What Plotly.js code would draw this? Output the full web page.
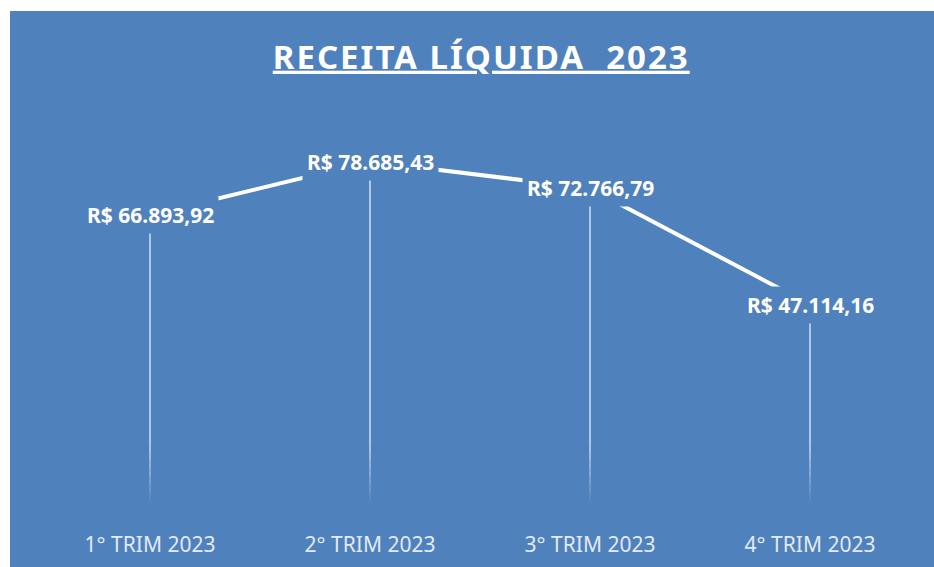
<!DOCTYPE html>
<html>
<head>
<meta charset="utf-8">
<script src="https://cdn.plot.ly/plotly-3.0.1.min.js"></script>
<style>
  html, body { margin: 0; padding: 0; background: #ffffff; width: 934px; height: 567px; overflow: hidden; }
  #chart { position: absolute; left: 10px; top: 11px; width: 924px; height: 556px; }
</style>
</head>
<body>
<div id="chart"></div>
<script>
const titleText = 'RECEITA LÍQUIDA&nbsp; 2023';
const categories = ['1° TRIM 2023', '2° TRIM 2023', '3° TRIM 2023', '4° TRIM 2023'];
const values = [66893.92, 78685.43, 72766.79, 47114.16];

const BG = '#4f81bd';

function brl(v) {
  const parts = v.toFixed(2).split('.');
  const intPart = parts[0].replace(/\B(?=(\d{3})+(?!\d))/g, '.');
  return 'R$ ' + intPart + ',' + parts[1];
}

const lineTrace = {
  type: 'scatter',
  mode: 'lines',
  x: categories,
  y: values,
  line: { color: '#ffffff', width: 4 },
  hoverinfo: 'skip',
  showlegend: false
};

// drop lines from each point to the axis, fading at the bottom
const shapes = [];
const fadeTop = 16000, fadeBottom = 2500, steps = 8;
categories.forEach((c, i) => {
  shapes.push({
    type: 'line', xref: 'x', yref: 'y', layer: 'below',
    x0: c, x1: c, y0: values[i], y1: fadeTop,
    line: { color: 'rgba(225,234,246,0.9)', width: 1.5 }
  });
  for (let k = 0; k < steps; k++) {
    const a = fadeTop - (fadeTop - fadeBottom) * k / steps;
    const b = fadeTop - (fadeTop - fadeBottom) * (k + 1) / steps;
    const op = 0.9 * (1 - (k + 0.5) / steps);
    shapes.push({
      type: 'line', xref: 'x', yref: 'y', layer: 'below',
      x0: c, x1: c, y0: a, y1: b,
      line: { color: 'rgba(225,234,246,' + op.toFixed(3) + ')', width: 1.5 }
    });
  }
});

const annotations = categories.map((c, i) => ({
  x: c, y: values[i], xref: 'x', yref: 'y',
  text: '<b>' + brl(values[i]) + '</b>',
  showarrow: false,
  bgcolor: BG,
  borderpad: 4,
  font: { family: 'Noto Sans, sans-serif', size: 21, color: '#ffffff' }
}));

const layout = {
  width: 924, height: 556,
  paper_bgcolor: BG,
  plot_bgcolor: BG,
  margin: { l: 30, r: 14, t: 54, b: 49 },
  title: {
    text: '<b><span style="text-decoration:underline;letter-spacing:2px">' + titleText + '</span></b>',
    x: 0.51, xanchor: 'center',
    y: 0.917, yanchor: 'middle',
    xref: 'container', yref: 'container',
    font: { family: 'Noto Sans, sans-serif', size: 33, color: '#ffffff' }
  },
  xaxis: {
    type: 'category',
    range: [-0.5, 3.5],
    showgrid: false, zeroline: false, showline: false,
    ticks: '',
    ticklabelstandoff: 12,
    tickfont: { family: 'Noto Sans, sans-serif', size: 21, color: '#e2eaf5' },
    fixedrange: true
  },
  yaxis: {
    range: [0, 100000],
    showgrid: false, zeroline: false, showline: false,
    showticklabels: false, ticks: '',
    fixedrange: true
  },
  shapes: shapes,
  annotations: annotations,
  showlegend: false
};

Plotly.newPlot('chart', [lineTrace], layout, { displayModeBar: false, staticPlot: true });
</script>
</body>
</html>
